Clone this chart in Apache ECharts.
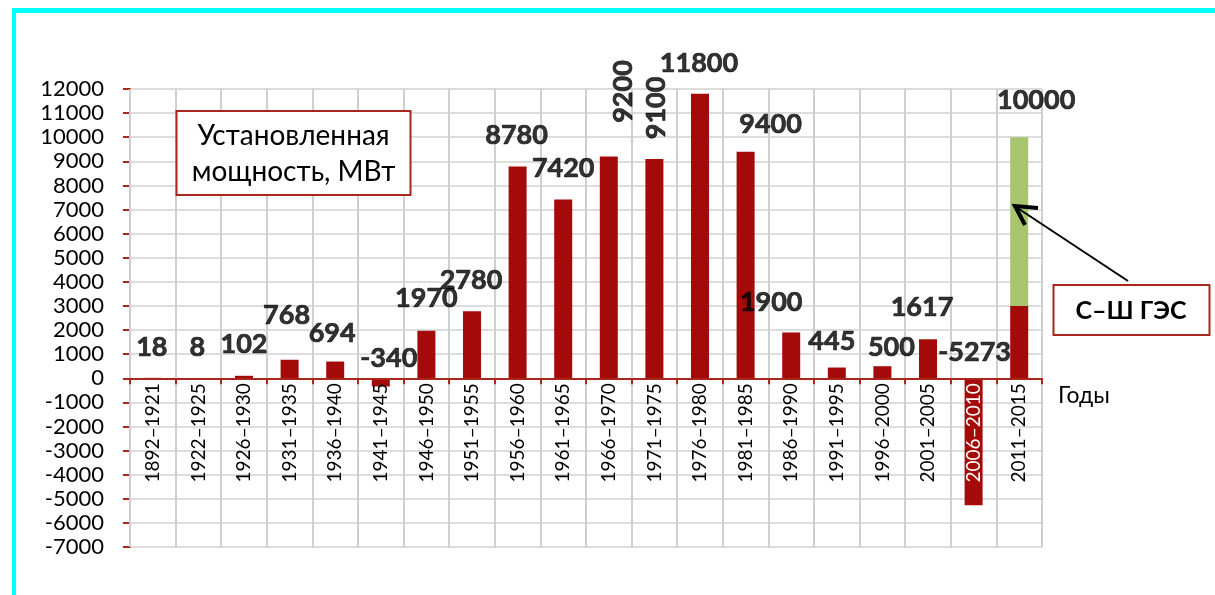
<!DOCTYPE html>
<html>
<head>
<meta charset="utf-8">
<script src="https://cdn.jsdelivr.net/npm/echarts@6/dist/echarts.min.js"></script>
<style>
html,body{margin:0;padding:0;background:#fff;}
#chart{width:1215px;height:595px;}
</style>
</head>
<body>
<div id="chart"></div>
<script>
// ---- data ----
const periods = ['1892–1921','1922–1925','1926–1930','1931–1935','1936–1940','1941–1945','1946–1950','1951–1955','1956–1960','1961–1965','1966–1970','1971–1975','1976–1980','1981–1985','1986–1990','1991–1995','1996–2000','2001–2005','2006–2010','2011–2015'];
const capacity = [18, 8, 102, 768, 694, -340, 1970, 2780, 8780, 7420, 9200, 9100, 11800, 9400, 1900, 445, 500, 1617, -5273, 3000];
const sshGes = [null, null, null, null, null, null, null, null, null, null, null, null, null, null, null, null, null, null, null, 7000];
const yTicks = {min: -7000, max: 12000, step: 1000};

// ---- label nudges (layout only; rotated labels take offsets in their own frame) ----
const labelNudge = [[-1,-31],[-1,-31],[0,-32],[-3,-44],[-3,-28],[8,-28],[0,-32],[-1,-31],[-1,-31],[0,-31],[65,14],[51,2],[-1,-31],[25,-27],[-20,-30],[-5,-26],[9,-19],[-6,-32],[1,-153],[17,-37]];
const labelRotate = [0,0,0,0,0,0,0,0,0,0,90,90,0,0,0,0,0,0,0,0];

const RED = '#A50A0A';
const AXIS = '#A8261B';
const GREEN = '#A9C46E';
const FONT = 'Lato';

const GRID = {left: 130, right: 173, top: 89, bottom: 48};
const totals = capacity.map((v, i) => v + (sshGes[i] || 0));
// place the category axis on the zero line (grid bottom -> zero)
const plotH = 595 - GRID.top - GRID.bottom;
const zeroShift = plotH * (0 - yTicks.min) / (yTicks.max - yTicks.min);

const chart = echarts.init(document.getElementById('chart'), null, {renderer: 'canvas'});
chart.setOption({
  animation: false,
  backgroundColor: '#fff',
  textStyle: {fontFamily: FONT},
  grid: Object.assign({containLabel: false, outerBoundsMode: 'none'}, GRID),
  xAxis: {
    type: 'category',
    data: periods.map(p => p === '2006–2010' ? {value: p, textStyle: {color: '#fff'}} : p),
    z: 5,
    offset: -zeroShift,
    boundaryGap: true,
    axisLine: {onZero: false, lineStyle: {color: AXIS, width: 2}},
    axisTick: {show: true, length: 6, lineStyle: {color: AXIS, width: 2}},
    axisLabel: {interval: 0, rotate: 90, fontSize: 19, color: '#000', margin: 5, fontFamily: FONT},
    splitLine: {show: true, lineStyle: {color: '#cfcfcf', width: 2}},
    name: 'Годы',
    nameLocation: 'end',
    nameGap: 16,
    nameTextStyle: {fontSize: 23, color: '#000', verticalAlign: 'top', padding: [6, 0, 0, 0], fontFamily: FONT}
  },
  yAxis: {
    type: 'value',
    min: yTicks.min, max: yTicks.max, interval: yTicks.step,
    axisLine: {show: true, onZero: false, lineStyle: {color: AXIS, width: 2}},
    axisTick: {show: true, length: 7, lineStyle: {color: AXIS, width: 2}},
    axisLabel: {fontSize: 22, color: '#000', margin: 26, fontFamily: FONT, formatter: v => String(v)},
    splitLine: {show: true, lineStyle: {color: '#dcdcdc', width: 2}}
  },
  series: [
    {
      type: 'bar', name: 'capacity', stack: 'total', data: capacity,
      barWidth: 18, itemStyle: {color: RED}
    },
    {
      type: 'bar', name: 'sshges', stack: 'total', data: sshGes,
      barWidth: 18, itemStyle: {color: GREEN}
    },
    {
      type: 'scatter', name: 'labels', symbolSize: 1, z: 10,
      itemStyle: {color: 'rgba(0,0,0,0)'},
      data: totals.map((v, i) => ({
        value: v,
        label: {offset: labelNudge[i], rotate: labelRotate[i]}
      })),
      label: {
        show: true, position: 'inside', fontSize: 27, fontWeight: 'bold', color: '#000',
        textBorderColor: '#000', textBorderWidth: 0.7,
        fontFamily: FONT, align: 'center', verticalAlign: 'middle',
        formatter: p => String(p.value)
      }
    }
  ],
  graphic: [
    {type: 'line', z: 100, shape: {x1: 12, y1: 10.5, x2: 1215, y2: 10.5}, style: {stroke: '#00FFFF', lineWidth: 5}},
    {type: 'line', z: 100, shape: {x1: 14, y1: 8, x2: 14, y2: 595}, style: {stroke: '#00FFFF', lineWidth: 4}},
    {type: 'rect', z: 100, shape: {x: 176.5, y: 111, width: 234, height: 84}, style: {fill: '#fff', stroke: AXIS, lineWidth: 2}},
    {type: 'text', z: 101, x: 293.5, y: 136, style: {text: 'Установленная', font: '28px Lato', fill: '#000', textAlign: 'center', textVerticalAlign: 'middle'}},
    {type: 'text', z: 101, x: 293.5, y: 172, style: {text: 'мощность, МВт', font: '28px Lato', fill: '#000', textAlign: 'center', textVerticalAlign: 'middle'}},
    {type: 'rect', z: 100, shape: {x: 1053.5, y: 285, width: 156, height: 50}, style: {fill: '#fff', stroke: AXIS, lineWidth: 2}},
    {type: 'text', z: 101, x: 1131, y: 311, style: {text: 'С–Ш ГЭС', font: 'bold 25px Lato', fill: '#000', textAlign: 'center', textVerticalAlign: 'middle'}},
    {type: 'line', z: 100, shape: {x1: 1128, y1: 281, x2: 1016, y2: 207}, style: {stroke: '#000', lineWidth: 2}},
    {type: 'polyline', z: 100, shape: {points: [[1038, 208], [1015, 206], [1025, 225]]}, style: {stroke: '#000', lineWidth: 4, fill: null, lineJoin: 'miter'}}
  ]
});
</script>
</body>
</html>
